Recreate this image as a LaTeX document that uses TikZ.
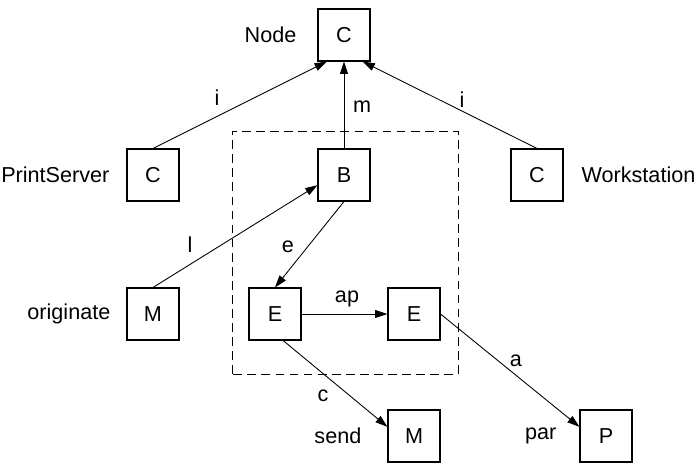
\documentclass[tikz,border=0pt]{standalone}
\usepackage{fontspec}
\setmainfont{Liberation Sans}
\usetikzlibrary{positioning,arrows.meta}

\begin{document}
\begin{tikzpicture}[
  x=1cm, y=1cm,
  every node/.style={inner sep=1pt, font=\fontsize{12.3}{14}\selectfont},
  box/.style={draw, line width=0.6pt, minimum size=1.04cm, inner sep=0pt},
  lbl/.style={inner sep=1pt},
  arrow/.style={draw, line width=0.5pt, -{Triangle[length=7pt,width=4.5pt]}},
  grp/.style={draw, line width=0.5pt, dash pattern=on 5pt off 3pt}]

  \useasboundingbox (0,0) rectangle (13.88,9.26);

  % group frame
  \draw[grp] (4.64,1.78) rectangle (9.16,6.64);

  % vertices
  \node[box] (nodec)  at ( 6.88, 8.56) {C};
  \node[box] (psc)    at ( 3.06, 5.76) {C};
  \node[box] (b)      at ( 6.88, 5.76) {B};
  \node[box] (wsc)    at (10.74, 5.76) {C};
  \node[box] (origm)  at ( 3.06, 2.98) {M};
  \node[box] (e1)     at ( 5.50, 2.98) {E};
  \node[box] (e2)     at ( 8.28, 2.98) {E};
  \node[box] (sendm)  at ( 8.28, 0.54) {M};
  \node[box] (parp)   at (12.12, 0.54) {P};

  % names beside the vertices
  \node[lbl, left=0.38cm of nodec]  (nodename)  {Node};
  \node[lbl, left=0.30cm of psc]    (psname)    {PrintServer};
  \node[lbl, right=0.32cm of wsc]   (wsname)    {Workstation};
  \node[lbl, left=0.28cm of origm]  (origname)  {originate};
  \node[lbl, left=0.48cm of sendm]  (sendname)  {send};
  \node[lbl, left=0.42cm of parp]   (parname)   {par};

  % arrows
  \draw[arrow] (psc.north)  -- (nodec.-123);
  \draw[arrow] (wsc.north)  -- (nodec.-55);
  \draw[arrow] (b.north)    -- (nodec.south);
  \draw[arrow] (origm.north) -- (b.-159);
  \draw[arrow] (b.south)    -- (e1.north);
  \draw[arrow] (e1.east)    -- (e2.west);
  \draw[arrow] (e1.-73)     -- (sendm.161);
  \draw[arrow] (e2.east)    -- (parp.161);

  % edge labels
  \node (li)  at ( 4.34, 7.30) {i};
  \node (ri)  at ( 9.24, 7.26) {i};
  \node (lm)  at ( 7.24, 7.12) {m};
  \node (ll)  at ( 3.80, 4.36) {l};
  \node (le)  at ( 5.76, 4.32) {e};
  \node (lap) at ( 6.94, 3.28) {ap};
  \node (la)  at (10.32, 2.04) {a};
  \node (lc)  at ( 6.46, 1.34) {c};
\end{tikzpicture}
\end{document}
